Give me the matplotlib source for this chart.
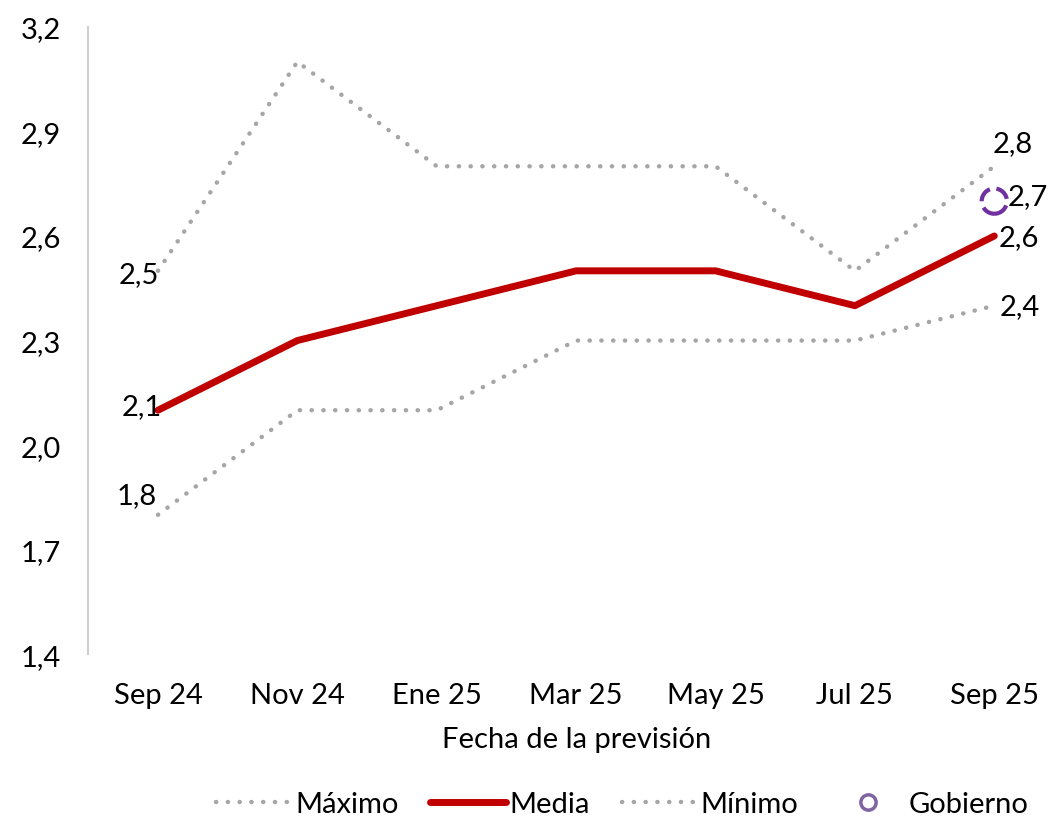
import matplotlib.pyplot as plt
from matplotlib.lines import Line2D

plt.rcParams['font.family'] = ['Lato', 'DejaVu Sans']

fechas  = ["Sep 24", "Nov 24", "Ene 25", "Mar 25", "May 25", "Jul 25", "Sep 25"]
maximo  = [2.5, 3.1, 2.8, 2.8, 2.8, 2.5, 2.8]
media   = [2.1, 2.3, 2.4, 2.5, 2.5, 2.4, 2.6]
minimo  = [1.8, 2.1, 2.1, 2.3, 2.3, 2.3, 2.4]
gobierno = 2.7
yticks  = [1.4, 1.7, 2.0, 2.3, 2.6, 2.9, 3.2]

GRIS = "#A6A6A6"
ROJO = "#C00000"
MORADO = "#7030A0"
FS = 21
PUNTEADO = (0, (0.05, 2.6))

fig = plt.figure(figsize=(10.64, 8.2), dpi=100)
ax = fig.add_axes([0.083, 0.201, 0.917, 0.765])

x = list(range(len(fechas)))
ax.plot(x, maximo, color=GRIS, lw=3.2, linestyle=PUNTEADO, dash_capstyle="round")
ax.plot(x, minimo, color=GRIS, lw=3.2, linestyle=PUNTEADO, dash_capstyle="round")
ax.plot(x, media, color=ROJO, lw=5, solid_capstyle="round")
ax.scatter([x[-1]], [gobierno], s=330, facecolors="none", edgecolors=MORADO,
           linewidths=3, linestyles="--", zorder=5)

# etiquetas de datos
ax.annotate("2,5", (x[0], maximo[0]), xytext=(-14, -2), textcoords="offset points",
            ha="center", va="center", fontsize=FS)
ax.annotate("2,1", (x[0], media[0]), xytext=(-12, 3), textcoords="offset points",
            ha="center", va="center", fontsize=FS)
ax.annotate("1,8", (x[0], minimo[0]), xytext=(-15, 14), textcoords="offset points",
            ha="center", va="center", fontsize=FS)
ax.annotate("2,8", (x[-1], maximo[-1]), xytext=(13, 17), textcoords="offset points",
            ha="center", va="center", fontsize=FS)
ax.annotate("2,7", (x[-1], gobierno), xytext=(24, 4), textcoords="offset points",
            ha="center", va="center", fontsize=FS)
ax.annotate("2,6", (x[-1], media[-1]), xytext=(18, -1), textcoords="offset points",
            ha="center", va="center", fontsize=FS)
ax.annotate("2,4", (x[-1], minimo[-1]), xytext=(18, 0), textcoords="offset points",
            ha="center", va="center", fontsize=FS)

ax.set_xlim(-0.5, len(fechas) - 0.5)
ax.set_ylim(yticks[0], yticks[-1])
ax.set_yticks(yticks)
ax.set_yticklabels([f"{v:.1f}".replace(".", ",") for v in yticks], fontsize=FS)
ax.set_xticks(x)
ax.set_xticklabels(fechas, fontsize=FS)
ax.tick_params(length=0)
ax.tick_params(axis="x", pad=20)
ax.tick_params(axis="y", pad=20)
ax.set_xlabel("Fecha de la previsión", fontsize=FS, labelpad=13)

for s in ["top", "right", "bottom"]:
    ax.spines[s].set_visible(False)
ax.spines["left"].set_color("#D0D0D0")
ax.spines["left"].set_linewidth(1.5)

handles = [
    Line2D([], [], color=GRIS, lw=3.2, linestyle=PUNTEADO, dash_capstyle="round"),
    Line2D([], [], color=ROJO, lw=5, solid_capstyle="round"),
    Line2D([], [], color=GRIS, lw=3.2, linestyle=PUNTEADO, dash_capstyle="round"),
    Line2D([], [], color="#8064A2", lw=0, marker="o", markersize=11,
           markerfacecolor="none", markeredgewidth=2.5),
]
fig.legend(handles, ["Máximo", "Media", "Mínimo", "Gobierno"], loc="center",
           bbox_to_anchor=(0.585, 0.018), ncol=4, frameon=False, fontsize=FS,
           handlelength=2.6, handletextpad=0.1, columnspacing=1.1)

fig.savefig("out.png", dpi=100)
